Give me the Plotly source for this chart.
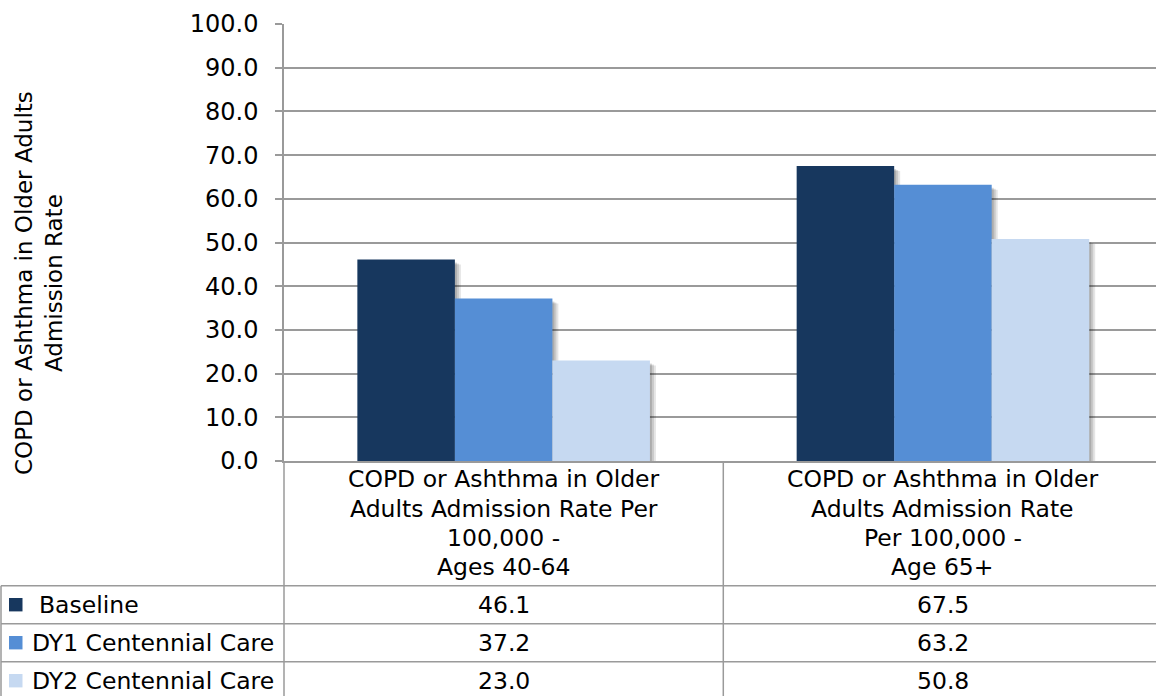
import plotly.graph_objects as go

# ---- data ----
categories = [
    ["COPD or Ashthma in Older", "Adults Admission Rate Per", "100,000 -", "Ages 40-64"],
    ["COPD or Ashthma in Older", "Adults Admission Rate", "Per 100,000 -", "Age 65+"],
]
series_names = ["Baseline", "DY1 Centennial Care", "DY2 Centennial Care"]
baseline = [46.1, 67.5]
dy1 = [37.2, 63.2]
dy2 = [23.0, 50.8]
y_ticks = [0, 10, 20, 30, 40, 50, 60, 70, 80, 90, 100]
y_title = "COPD or Ashthma in Older Adults<br>Admission Rate"

series_values = [baseline, dy1, dy2]
colors = ["#17375E", "#558ED5", "#C6D9F1"]

# ---- layout geometry (pixels) ----
W, H = 1156, 696
ML, MR, MT, MB = 284, 0, 24, 235
X0, X1 = -0.5, 1.485
FONT = "DejaVu Sans"
FS = 23.5
GRID = "#9A9A9A"

plot_w = W - ML - MR
plot_h = H - MT - MB
px_per_unit_y = plot_h / 100.0
px_per_cat = plot_w / (X1 - X0)


def px_x(px):
    return (px - ML) / plot_w


def px_y(py):
    return (H - MB - py) / plot_h


def cat_x(c):
    return (c - X0) / (X1 - X0)


xs = [0, 1]
bw = 0.222
fig = go.Figure()

# soft drop shadows
for layer, (dx, dy, op) in enumerate([(6, 5, 0.10), (4, 4, 0.12), (2, 3, 0.14)]):
    for i, vals in enumerate(series_values):
        fig.add_trace(go.Bar(
            x=xs, y=[v - dy / px_per_unit_y for v in vals],
            width=bw, offset=-1.5 * bw + i * bw + dx / px_per_cat,
            marker=dict(color=f"rgba(0,0,0,{op})", line=dict(width=0)),
            showlegend=False, hoverinfo="skip",
        ))

for i, (name, vals) in enumerate(zip(series_names, series_values)):
    fig.add_trace(go.Bar(
        x=xs, y=vals, name=name, width=bw, offset=-1.5 * bw + i * bw,
        marker=dict(color=colors[i], line=dict(width=0)),
        showlegend=False,
    ))

shapes = []
line = dict(color=GRID, width=1.5)
# table horizontal lines
row_lines = [585.7, 623.7, 661.7]
for ry in row_lines:
    shapes.append(dict(type="line", xref="paper", yref="paper",
                       x0=px_x(1), x1=px_x(W + 5), y0=px_y(ry), y1=px_y(ry), line=line))
# left border of table
shapes.append(dict(type="line", xref="paper", yref="paper",
                   x0=px_x(1), x1=px_x(1), y0=px_y(585.7), y1=px_y(H + 5), line=line))
# axis extension and category separator
for c in [X0, 0.5]:
    shapes.append(dict(type="line", xref="paper", yref="paper",
                       x0=cat_x(c), x1=cat_x(c), y0=0, y1=px_y(H + 5), line=line))
# legend keys
row_centers = [(585.7 + 623.7) / 2, (623.7 + 661.7) / 2, (661.7 + 699.7) / 2]
for i, rc in enumerate(row_centers):
    shapes.append(dict(type="rect", xref="paper", yref="paper",
                       x0=px_x(9), x1=px_x(22.5), y0=px_y(rc - 6.7), y1=px_y(rc + 6.7),
                       fillcolor=colors[i], line=dict(width=0)))

annotations = []
# category labels (one annotation per line)
line_centers = [479.5, 508.5, 537.5, 566.5]
for c, lines in zip(xs, categories):
    for ln, yc in zip(lines, line_centers):
        annotations.append(dict(x=cat_x(c), y=px_y(yc), xref="paper", yref="paper",
                                text=ln, showarrow=False, xanchor="center", yanchor="middle",
                                font=dict(family=FONT, size=FS, color="#000")))
# legend labels and values
label_x = [37, 30, 30]
for i, name in enumerate(series_names):
    annotations.append(dict(x=px_x(label_x[i]), y=px_y(row_centers[i]), xref="paper", yref="paper",
                            text=name, showarrow=False, xanchor="left", yanchor="middle",
                            font=dict(family=FONT, size=FS, color="#000")))
    for c, v in zip(xs, series_values[i]):
        annotations.append(dict(x=cat_x(c), y=px_y(row_centers[i]), xref="paper", yref="paper",
                                text=f"{v:.1f}", showarrow=False, xanchor="center", yanchor="middle",
                                font=dict(family=FONT, size=FS, color="#000")))
# y-axis title
annotations.append(dict(x=px_x(39), y=px_y(283), xref="paper", yref="paper",
                        text=y_title, textangle=-90, showarrow=False,
                        xanchor="center", yanchor="middle", align="center",
                        font=dict(family=FONT, size=23, color="#000")))

fig.update_layout(
    width=W, height=H, autosize=False,
    margin=dict(l=ML, r=MR, t=MT, b=MB, pad=0),
    paper_bgcolor="white", plot_bgcolor="white",
    barmode="overlay",
    showlegend=False,
    xaxis=dict(range=[X0, X1], showticklabels=False, showgrid=False, zeroline=False,
               showline=True, linecolor=GRID, linewidth=1.5, ticks="", fixedrange=True),
    yaxis=dict(range=[0, 100], tickvals=y_ticks, tickformat=".1f",
               showgrid=True, gridcolor=GRID, gridwidth=1.5, zeroline=False,
               showline=True, linecolor=GRID, linewidth=1.5,
               ticks="outside", ticklen=7, tickcolor=GRID, tickwidth=1.5,
               ticklabelstandoff=12,
               tickfont=dict(family=FONT, size=24, color="#000")),
    shapes=shapes, annotations=annotations,
)

fig.write_html(
    "out.html",
    config={"displayModeBar": False},
    post_script="document.body.style.margin='0';document.body.style.overflow='hidden';",
)
